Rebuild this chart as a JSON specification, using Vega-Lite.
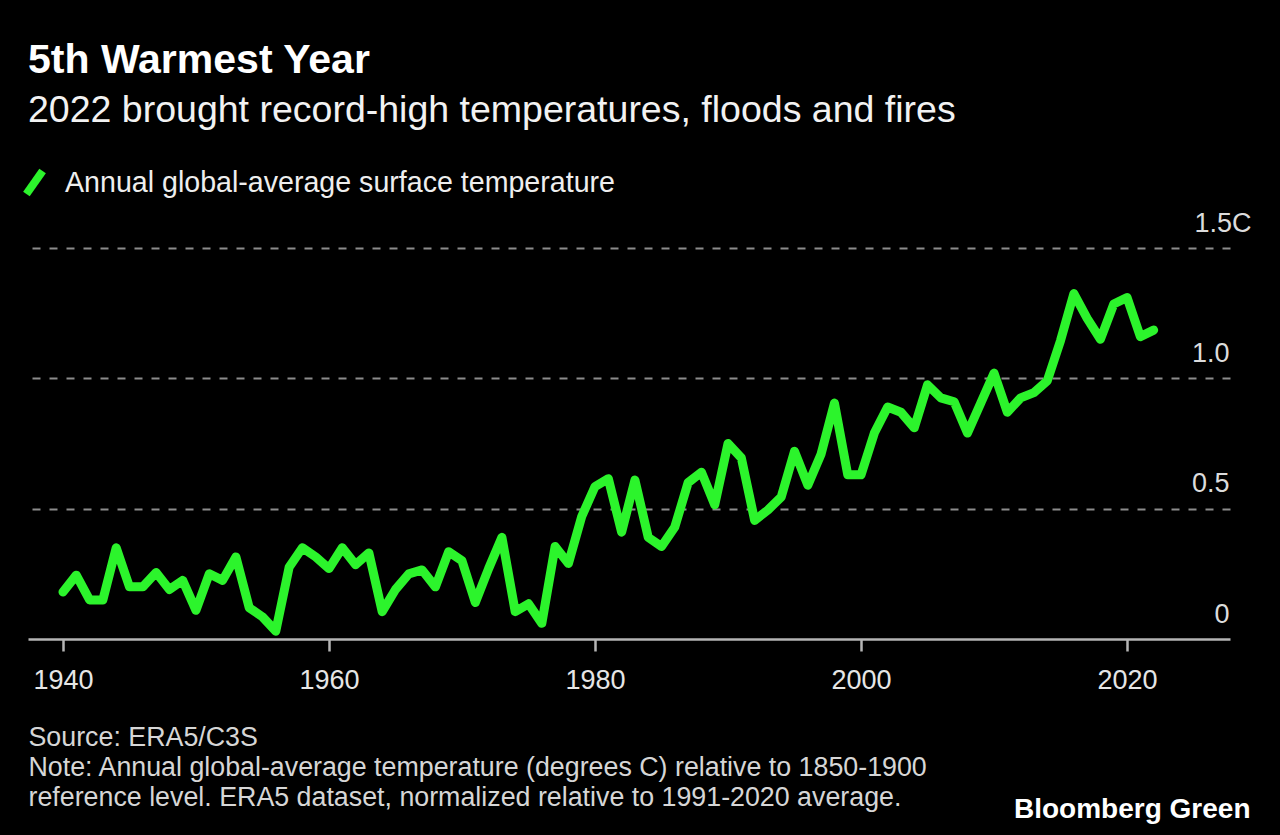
{
  "$schema": "https://vega.github.io/schema/vega-lite/v6.json",
  "width": 1202,
  "height": 391,
  "autosize": {"type": "none"},
  "padding": {"left": 28, "top": 248, "right": 50, "bottom": 196},
  "background": "#000000",
  "config": {
    "view": {"stroke": null},
    "font": "Liberation Sans"
  },
  "title": {
    "text": "5th Warmest Year",
    "subtitle": "2022 brought record-high temperatures, floods and fires",
    "anchor": "start",
    "frame": "group",
    "font": "Liberation Sans",
    "fontSize": 41,
    "fontWeight": "bold",
    "color": "#ffffff",
    "subtitleFont": "Liberation Sans",
    "subtitleFontSize": 37.5,
    "subtitleColor": "#f2f2f2",
    "subtitlePadding": 10,
    "offset": 35
  },
  "data": {
    "values": [
      {"year": 1940, "v": 0.18}, {"year": 1941, "v": 0.245}, {"year": 1942, "v": 0.15}, {"year": 1943, "v": 0.15},
      {"year": 1944, "v": 0.35}, {"year": 1945, "v": 0.2}, {"year": 1946, "v": 0.2}, {"year": 1947, "v": 0.255},
      {"year": 1948, "v": 0.19}, {"year": 1949, "v": 0.225}, {"year": 1950, "v": 0.11}, {"year": 1951, "v": 0.25},
      {"year": 1952, "v": 0.225}, {"year": 1953, "v": 0.315}, {"year": 1954, "v": 0.12}, {"year": 1955, "v": 0.085},
      {"year": 1956, "v": 0.03}, {"year": 1957, "v": 0.275}, {"year": 1958, "v": 0.35}, {"year": 1959, "v": 0.315},
      {"year": 1960, "v": 0.27}, {"year": 1961, "v": 0.35}, {"year": 1962, "v": 0.285}, {"year": 1963, "v": 0.33},
      {"year": 1964, "v": 0.105}, {"year": 1965, "v": 0.19}, {"year": 1966, "v": 0.25}, {"year": 1967, "v": 0.265},
      {"year": 1968, "v": 0.2}, {"year": 1969, "v": 0.335}, {"year": 1970, "v": 0.3}, {"year": 1971, "v": 0.14},
      {"year": 1972, "v": 0.27}, {"year": 1973, "v": 0.39}, {"year": 1974, "v": 0.105}, {"year": 1975, "v": 0.135},
      {"year": 1976, "v": 0.06}, {"year": 1977, "v": 0.355}, {"year": 1978, "v": 0.29}, {"year": 1979, "v": 0.47},
      {"year": 1980, "v": 0.585}, {"year": 1981, "v": 0.615}, {"year": 1982, "v": 0.41}, {"year": 1983, "v": 0.61},
      {"year": 1984, "v": 0.39}, {"year": 1985, "v": 0.355}, {"year": 1986, "v": 0.43}, {"year": 1987, "v": 0.6},
      {"year": 1988, "v": 0.64}, {"year": 1989, "v": 0.515}, {"year": 1990, "v": 0.75}, {"year": 1991, "v": 0.695},
      {"year": 1992, "v": 0.455}, {"year": 1993, "v": 0.495}, {"year": 1994, "v": 0.545}, {"year": 1995, "v": 0.72},
      {"year": 1996, "v": 0.59}, {"year": 1997, "v": 0.71}, {"year": 1998, "v": 0.905}, {"year": 1999, "v": 0.63},
      {"year": 2000, "v": 0.63}, {"year": 2001, "v": 0.79}, {"year": 2002, "v": 0.89}, {"year": 2003, "v": 0.87},
      {"year": 2004, "v": 0.81}, {"year": 2005, "v": 0.975}, {"year": 2006, "v": 0.925}, {"year": 2007, "v": 0.91},
      {"year": 2008, "v": 0.79}, {"year": 2009, "v": 0.905}, {"year": 2010, "v": 1.02}, {"year": 2011, "v": 0.87},
      {"year": 2012, "v": 0.925}, {"year": 2013, "v": 0.945}, {"year": 2014, "v": 0.99}, {"year": 2015, "v": 1.145},
      {"year": 2016, "v": 1.325}, {"year": 2017, "v": 1.23}, {"year": 2018, "v": 1.15}, {"year": 2019, "v": 1.285},
      {"year": 2020, "v": 1.31}, {"year": 2021, "v": 1.16}, {"year": 2022, "v": 1.185}
    ]
  },
  "mark": {"type": "line", "strokeWidth": 9, "strokeCap": "round", "strokeJoin": "round"},
  "encoding": {
    "x": {
      "field": "year",
      "type": "quantitative",
      "scale": {"domain": [1937.37, 2027.74], "nice": false, "zero": false},
      "axis": {
        "values": [1940, 1960, 1980, 2000, 2020],
        "format": "d",
        "grid": false,
        "domainColor": "#b5b5b5",
        "domainWidth": 2.5,
        "tickColor": "#b5b5b5",
        "tickWidth": 2.5,
        "tickSize": 12,
        "labelFont": "Liberation Sans",
        "labelFontSize": 27,
        "labelColor": "#e6e6e6",
        "labelBaseline": "alphabetic",
        "labelPadding": 37,
        "labelFlush": false,
        "title": [
          "Source: ERA5/C3S",
          "Note: Annual global-average temperature (degrees C) relative to 1850-1900",
          "reference level. ERA5 dataset, normalized relative to 1991-2020 average."
        ],
        "titleX": 0,
        "titleY": 106,
        "titleAlign": "left",
        "titleAnchor": "start",
        "titleBaseline": "alphabetic",
        "titleFont": "Liberation Sans",
        "titleFontSize": 26.8,
        "titleFontWeight": "normal",
        "titleColor": "#d6d6d6",
        "titleLineHeight": 30,
        "titleLimit": 0
      }
    },
    "y": {
      "field": "v",
      "type": "quantitative",
      "scale": {"domain": [0, 1.5], "nice": false},
      "axis": {
        "orient": "right",
        "values": [0, 0.5, 1, 1.5],
        "labelExpr": "datum.value == 1.5 ? '1.5C' : datum.value == 0 ? '0' : format(datum.value, '.1f')",
        "labelAlign": "right",
        "labelBaseline": "alphabetic",
        "labelOffset": -17,
        "labelPadding": {"condition": {"test": "datum.value == 1.5", "value": 21}, "value": -1},
        "ticks": false,
        "tickSize": 0,
        "domain": false,
        "grid": true,
        "gridDash": [8, 9],
        "gridColor": "#8c8c8c",
        "gridWidth": 2,
        "gridOpacity": {"condition": {"test": "datum.value == 0", "value": 0}, "value": 1},
        "labelFont": "Liberation Sans",
        "labelFontSize": 27,
        "labelColor": "#dcdcdc",
        "title": "Bloomberg Green",
        "titleAngle": 0,
        "titleAlign": "right",
        "titleBaseline": "alphabetic",
        "titleX": 20,
        "titleY": 569,
        "titleFont": "Liberation Sans",
        "titleFontSize": 28,
        "titleFontWeight": "bold",
        "titleColor": "#ffffff"
      }
    },
    "color": {
      "datum": "Annual global-average surface temperature",
      "type": "nominal",
      "scale": {"range": ["#2cf42c"]},
      "legend": {
        "orient": "none",
        "legendX": -11,
        "legendY": -83,
        "title": null,
        "padding": 0,
        "symbolType": "M-0.6,0.85L0.6,-0.85",
        "symbolSize": 729,
        "symbolStrokeWidth": 8,
        "labelOffset": 13,
        "labelLimit": 0,
        "labelFont": "Liberation Sans",
        "labelFontSize": 28.6,
        "labelColor": "#eeeeee"
      }
    }
  }
}
